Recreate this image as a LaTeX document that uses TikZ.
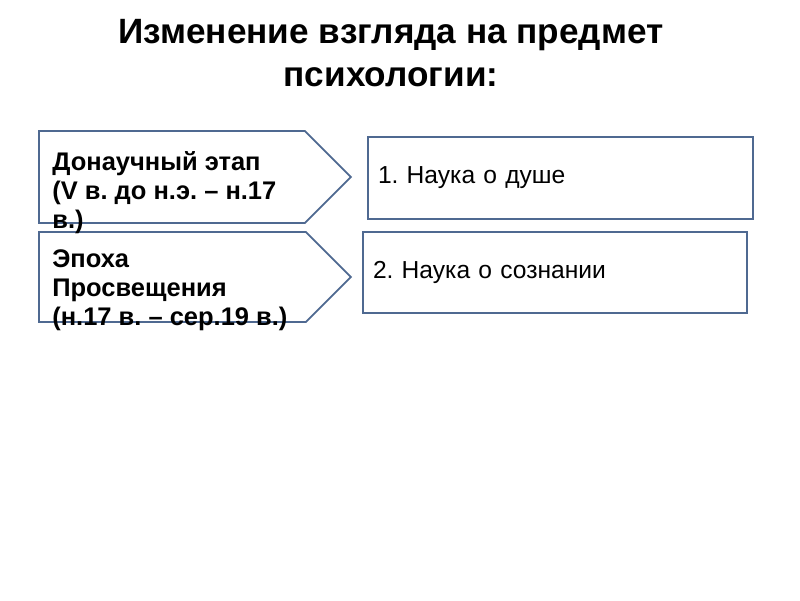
\documentclass[tikz,border=0pt]{standalone}
\usepackage{fontspec}
\setmainfont{Liberation Sans}
\usetikzlibrary{shapes.symbols}
\definecolor{frameblue}{RGB}{79,105,145}
\frenchspacing
\begin{document}
\begin{tikzpicture}[
  stage/.style={draw=frameblue, line width=1pt, fill=white, signal, signal to=east, signal pointer angle=90, inner sep=0pt, minimum width=6.24cm, anchor=west},
  stagetext/.style={anchor=base west, align=left, inner sep=0pt, font=\bfseries\fontsize{14.5}{16.5}\selectfont},
  result/.style={draw=frameblue, line width=1pt, align=left, inner xsep=0.2cm, text width=7.3cm, font=\fontsize{14}{16}\selectfont}
]
\useasboundingbox (0,0) rectangle (16,12);
\node[align=center, font=\bfseries\fontsize{20}{24.4}\selectfont] (title) at (7.82,10.93) {Изменение взгляда на предмет\\психологии:};
\node[stage, minimum height=1.84cm] (stage1) at (0.76,8.46) {};
\node[stage, minimum height=1.80cm] (stage2) at (0.76,6.46) {};
% base of the last line
\node[stagetext] (stagetext1) at (1.04,7.44) {Донаучный этап\\(V в. до н.э. – н.17\\в.)};
\node[stagetext] (stagetext2) at (1.04,5.50) {Эпоха\\Просвещения\\(н.17 в. – сер.19 в.)};
\node[result, minimum height=1.64cm] (result1) at (11.21,8.44) {1. Наука о душе};
\node[result, minimum height=1.62cm, text width=7.28cm] (result2) at (11.10,6.55) {2. Наука о сознании};
\end{tikzpicture}
\end{document}
